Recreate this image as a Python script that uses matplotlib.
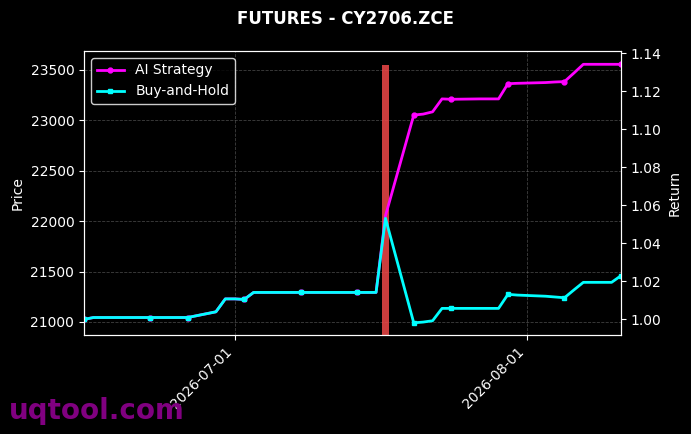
import numpy as np
import pandas as pd
import matplotlib
matplotlib.use('Agg')
import matplotlib.pyplot as plt
import matplotlib.dates as mdates

# trading days (Jun 19 is Dragon Boat holiday)
dates = pd.to_datetime([
    '2026-06-15', '2026-06-16', '2026-06-17', '2026-06-18',
    '2026-06-22', '2026-06-23', '2026-06-24', '2026-06-25', '2026-06-26',
    '2026-06-29', '2026-06-30', '2026-07-01', '2026-07-02', '2026-07-03',
    '2026-07-06', '2026-07-07', '2026-07-08', '2026-07-09', '2026-07-10',
    '2026-07-13', '2026-07-14', '2026-07-15', '2026-07-16', '2026-07-17',
    '2026-07-20', '2026-07-21', '2026-07-22', '2026-07-23', '2026-07-24',
    '2026-07-27', '2026-07-28', '2026-07-29', '2026-07-30', '2026-07-31',
    '2026-08-03', '2026-08-04', '2026-08-05', '2026-08-06', '2026-08-07',
    '2026-08-10', '2026-08-11',
])

buy_hold = [
    1.000, 1.001, 1.001, 1.001,
    1.001, 1.001, 1.001, 1.001, 1.001,
    1.004, 1.0108, 1.0108, 1.0105, 1.0142,
    1.0142, 1.0142, 1.0142, 1.0142, 1.0142,
    1.0142, 1.0142, 1.0142, 1.0142, 1.0532,
    0.9982, 0.9986, 0.9993, 1.0058, 1.0058,
    1.0058, 1.0058, 1.0058, 1.0132, 1.0128,
    1.0122, 1.0118, 1.0114, 1.0155, 1.0195,
    1.0195, 1.0230,
]

ai_strategy = [
    1.000, 1.001, 1.001, 1.001,
    1.001, 1.001, 1.001, 1.001, 1.001,
    1.004, 1.0108, 1.0108, 1.0105, 1.0142,
    1.0142, 1.0142, 1.0142, 1.0142, 1.0142,
    1.0142, 1.0142, 1.0142, 1.0142, 1.0545,
    1.1075, 1.1080, 1.1092, 1.1160, 1.1158,
    1.1160, 1.1160, 1.1160, 1.1240, 1.1242,
    1.1246, 1.1249, 1.1251, 1.1296, 1.1342,
    1.1342, 1.1342,
]

signal_dates = pd.to_datetime(['2026-07-17'])
signal_prices = [23550]

fig = plt.figure(figsize=(6.91, 4.34), dpi=100)
fig.patch.set_facecolor('black')
ax1 = fig.add_axes([0.1216, 0.2281, 0.7771, 0.6544])
ax1.set_facecolor('black')

# signal bar on price axis
ax1.bar(signal_dates, signal_prices, width=0.8, color='#f04848', alpha=0.85, zorder=2)
ax1.set_ylim(20871, 23688)
ax1.set_ylabel('Price', color='white', fontsize=10)
ax1.grid(True, color='gray', linestyle='--', linewidth=0.6, alpha=0.5)

ax2 = ax1.twinx()
ax2.plot(dates, ai_strategy, color='magenta', linewidth=2, marker='o',
         markersize=3.5, markevery=4, label='AI Strategy')
ax2.plot(dates, buy_hold, color='cyan', linewidth=2, marker='s',
         markersize=3.5, markevery=4, label='Buy-and-Hold')
ax2.set_ylim(0.9918, 1.1412)
ax2.set_ylabel('Return', color='white', fontsize=10)
ax2.set_yticks(np.arange(1.00, 1.141, 0.02))

ax1.set_xlim(dates[0], dates[-1])
ax1.xaxis.set_major_locator(mdates.MonthLocator())
ax1.xaxis.set_major_formatter(mdates.DateFormatter('%Y-%m-%d'))
for lbl in ax1.get_xticklabels():
    lbl.set_rotation(45)
    lbl.set_ha('right')

for ax in (ax1, ax2):
    ax.tick_params(colors='white', labelsize=10)
    for sp in ax.spines.values():
        sp.set_color('white')

leg = ax2.legend(loc='upper left', facecolor='black', edgecolor='white', fontsize=10)
for t in leg.get_texts():
    t.set_color('white')

fig.suptitle('FUTURES - CY2706.ZCE', color='white', fontsize=12, fontweight='bold', y=0.978)
fig.text(0.013, 0.035, 'uqtool.com', color='purple', fontsize=20, fontweight='bold')

fig.savefig('out.png', dpi=100, facecolor=fig.get_facecolor())
